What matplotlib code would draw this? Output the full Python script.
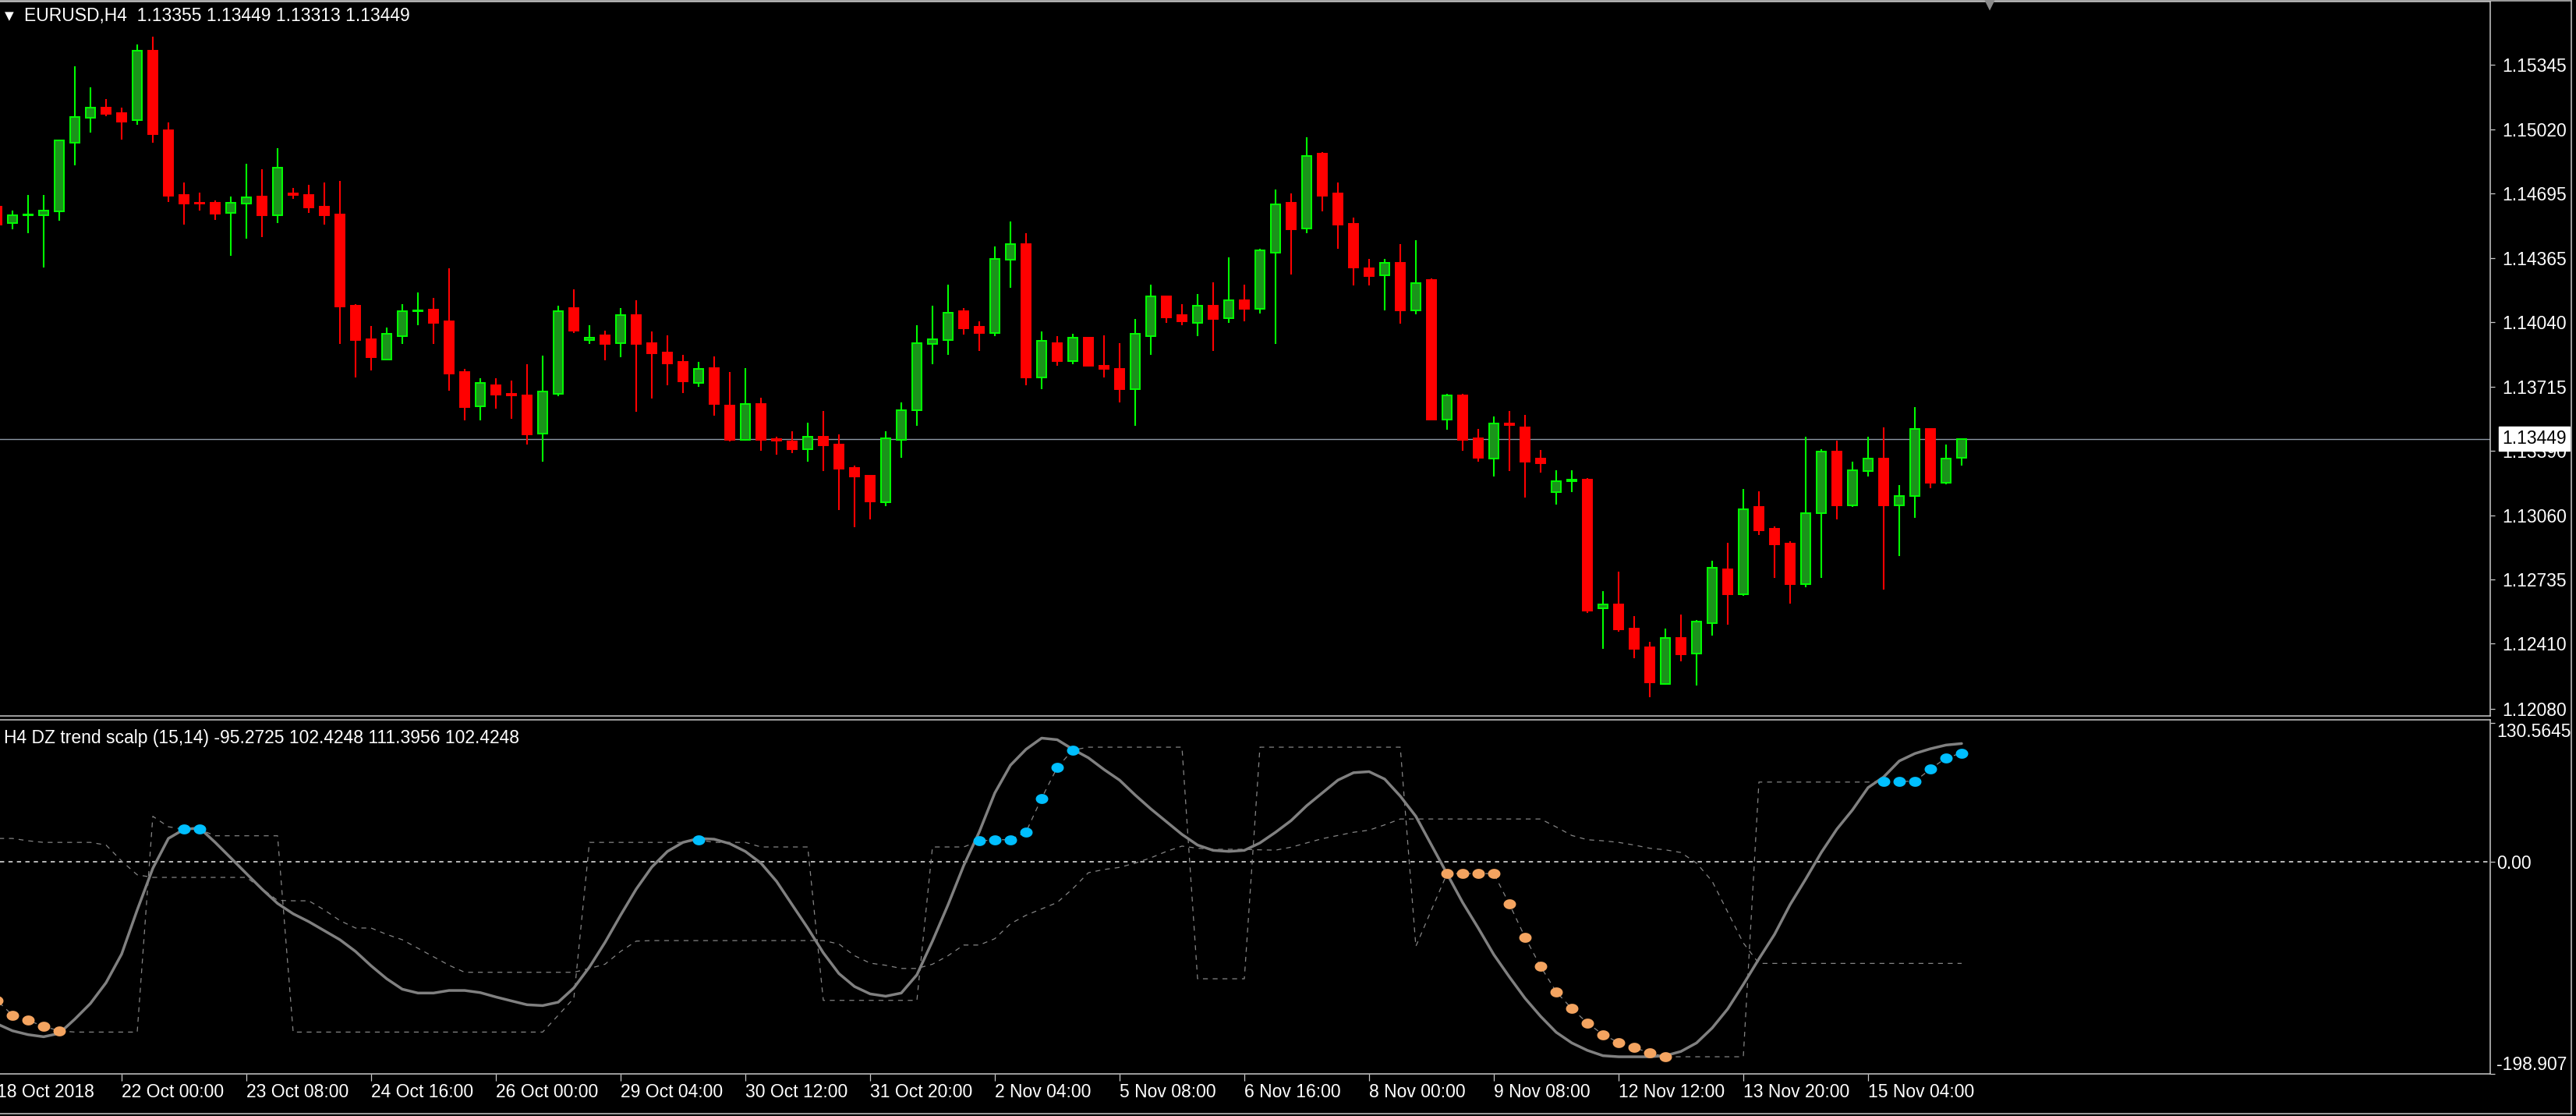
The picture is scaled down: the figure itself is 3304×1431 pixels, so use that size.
import numpy as np
import matplotlib
matplotlib.use("Agg")
import matplotlib.pyplot as plt
from matplotlib.lines import Line2D
from matplotlib.path import Path

plt.rcParams['font.family'] = ['Liberation Sans', 'DejaVu Sans']

# ---- EURUSD H4 candles, bar -1 (partly cut at left edge) .. bar 125 ----
opens = [1.14628, 1.14543, 1.14582, 1.14584, 1.14604, 1.14952, 1.15078, 1.15131, 1.15100, 1.15068,
         1.15417, 1.15015, 1.14686, 1.14647, 1.14647, 1.14594, 1.14642, 1.14679, 1.14584, 1.14696,
         1.14686, 1.14628, 1.14589, 1.14124, 1.13954, 1.13853, 1.13971, 1.14095, 1.14105, 1.14046,
         1.13790, 1.13615, 1.13722, 1.13676, 1.13669, 1.13475, 1.13678, 1.14114, 1.13950, 1.13974,
         1.13935, 1.14076, 1.13935, 1.13887, 1.13838, 1.13732, 1.13809, 1.13620, 1.13446, 1.13627,
         1.13448, 1.13436, 1.13397, 1.13460, 1.13422, 1.13300, 1.13262, 1.13126, 1.13446, 1.13596,
         1.13930, 1.13950, 1.14095, 1.14017, 1.13988, 1.14356, 1.14439, 1.13761, 1.13935, 1.13843,
         1.13964, 1.13819, 1.13804, 1.13703, 1.13969, 1.14172, 1.14076, 1.14037, 1.14124, 1.14061,
         1.14153, 1.14109, 1.14395, 1.14647, 1.14516, 1.14894, 1.14696, 1.14541, 1.14313, 1.14279,
         1.14342, 1.14100, 1.14255, 1.13547, 1.13669, 1.13451, 1.13349, 1.13528, 1.13509, 1.13349,
         1.13179, 1.13233, 1.13242, 1.12588, 1.12608, 1.12487, 1.12390, 1.12206, 1.12438, 1.12361,
         1.12516, 1.12787, 1.12661, 1.13102, 1.12995, 1.12918, 1.12714, 1.13073, 1.13383, 1.13112,
         1.13286, 1.13349, 1.13112, 1.13160, 1.13499, 1.13228, 1.13355]
highs = [1.14645, 1.14608, 1.14686, 1.14686, 1.14967, 1.15340, 1.15231, 1.15173, 1.15131, 1.15451,
         1.15490, 1.15054, 1.14749, 1.14698, 1.14657, 1.14679, 1.14846, 1.14817, 1.14923, 1.14720,
         1.14739, 1.14749, 1.14759, 1.14134, 1.14022, 1.14013, 1.14134, 1.14192, 1.14163, 1.14313,
         1.13804, 1.13756, 1.13756, 1.13746, 1.13828, 1.13870, 1.14124, 1.14206, 1.14027, 1.13998,
         1.14114, 1.14153, 1.13993, 1.13974, 1.13877, 1.13838, 1.13867, 1.13790, 1.13809, 1.13659,
         1.13460, 1.13489, 1.13533, 1.13591, 1.13470, 1.13315, 1.13262, 1.13489, 1.13635, 1.14027,
         1.14124, 1.14231, 1.14114, 1.14046, 1.14424, 1.14550, 1.14492, 1.13993, 1.13969, 1.13983,
         1.13964, 1.13974, 1.13935, 1.14056, 1.14231, 1.14172, 1.14134, 1.14182, 1.14245, 1.14371,
         1.14231, 1.14415, 1.14715, 1.14696, 1.14981, 1.14904, 1.14749, 1.14570, 1.14361, 1.14361,
         1.14439, 1.14458, 1.14264, 1.13678, 1.13678, 1.13499, 1.13562, 1.13591, 1.13572, 1.13393,
         1.13291, 1.13291, 1.13252, 1.12676, 1.12777, 1.12550, 1.12419, 1.12487, 1.12559, 1.12530,
         1.12831, 1.12923, 1.13194, 1.13184, 1.13005, 1.12928, 1.13460, 1.13397, 1.13441, 1.13334,
         1.13460, 1.13509, 1.13213, 1.13610, 1.13499, 1.13422, 1.13449]
lows = [1.14511, 1.14511, 1.14492, 1.14318, 1.14555, 1.14838, 1.15001, 1.15085, 1.14969, 1.15044,
        1.14950, 1.14652, 1.14536, 1.14608, 1.14560, 1.14376, 1.14463, 1.14473, 1.14545, 1.14666,
        1.14594, 1.14536, 1.13930, 1.13761, 1.13795, 1.13853, 1.13930, 1.14027, 1.13930, 1.13693,
        1.13543, 1.13543, 1.13601, 1.13552, 1.13422, 1.13334, 1.13664, 1.13988, 1.13930, 1.13848,
        1.13862, 1.13586, 1.13654, 1.13722, 1.13683, 1.13712, 1.13567, 1.13436, 1.13441, 1.13388,
        1.13368, 1.13378, 1.13334, 1.13286, 1.13087, 1.13000, 1.13039, 1.13107, 1.13354, 1.13514,
        1.13828, 1.13877, 1.13979, 1.13896, 1.13969, 1.14216, 1.13722, 1.13703, 1.13819, 1.13828,
        1.13814, 1.13761, 1.13635, 1.13514, 1.13877, 1.14037, 1.14027, 1.13969, 1.13896, 1.14037,
        1.14046, 1.14085, 1.13930, 1.14284, 1.14492, 1.14604, 1.14415, 1.14226, 1.14226, 1.14100,
        1.14032, 1.14080, 1.13547, 1.13494, 1.13388, 1.13334, 1.13257, 1.13286, 1.13150, 1.13276,
        1.13116, 1.13179, 1.12564, 1.12385, 1.12472, 1.12337, 1.12138, 1.12201, 1.12322, 1.12196,
        1.12453, 1.12506, 1.12651, 1.12961, 1.12743, 1.12613, 1.12695, 1.12743, 1.13039, 1.13102,
        1.13257, 1.12685, 1.12855, 1.13049, 1.13199, 1.13218, 1.13313]
closes = [1.14536, 1.14584, 1.14586, 1.14608, 1.14962, 1.15083, 1.15131, 1.15098, 1.15059, 1.15417,
          1.14996, 1.14681, 1.14642, 1.14642, 1.14591, 1.14647, 1.14676, 1.14582, 1.14826, 1.14686,
          1.14623, 1.14584, 1.14119, 1.13950, 1.13862, 1.13983, 1.14095, 1.14100, 1.14037, 1.13780,
          1.13610, 1.13732, 1.13673, 1.13669, 1.13470, 1.13688, 1.14095, 1.13998, 1.13964, 1.13930,
          1.14076, 1.13930, 1.13882, 1.13833, 1.13741, 1.13804, 1.13625, 1.13446, 1.13627, 1.13446,
          1.13441, 1.13397, 1.13460, 1.13417, 1.13296, 1.13257, 1.13131, 1.13451, 1.13596, 1.13935,
          1.13954, 1.14090, 1.14008, 1.13988, 1.14361, 1.14439, 1.13761, 1.13945, 1.13843, 1.13964,
          1.13819, 1.13804, 1.13703, 1.13983, 1.14172, 1.14066, 1.14046, 1.14124, 1.14056, 1.14153,
          1.14109, 1.14405, 1.14637, 1.14511, 1.14884, 1.14681, 1.14536, 1.14318, 1.14274, 1.14342,
          1.14100, 1.14240, 1.13547, 1.13669, 1.13446, 1.13354, 1.13528, 1.13518, 1.13334, 1.13325,
          1.13233, 1.13242, 1.12579, 1.12608, 1.12482, 1.12385, 1.12215, 1.12438, 1.12356, 1.12521,
          1.12797, 1.12661, 1.13092, 1.12986, 1.12913, 1.12714, 1.13073, 1.13383, 1.13112, 1.13291,
          1.13349, 1.13112, 1.13160, 1.13499, 1.13228, 1.13349, 1.13449]

# ---- DZ trend scalp indicator, same bars ----
trend_line = [-152, -158.6, -162.2, -164.2, -161, -147.6, -132.9, -113.4, -86.5, -45,
              -5.9, 22.2, 30.8, 32, 18.5, 3.9, -10.8, -25.4, -38.9, -48.6,
              -56, -64.5, -73, -84, -97.5, -109.7, -119.5, -123.1, -123.1, -120.7,
              -120.7, -122.7, -126.8, -130.5, -134.1, -134.9, -131.7, -118.3, -98.7, -75.5,
              -49.9, -25.4, -4.7, 10, 18.5, 22.2, 21.5, 17.3, 10, -1,
              -18.1, -40.1, -62, -85.3, -104.8, -117, -123.9, -126.1, -123.1, -106,
              -74.3, -40.1, -3.4, 28.3, 65, 91, 106, 116.5, 115, 106,
              98, 87, 77, 63, 50, 38, 26, 16, 11, 10,
              11, 18, 28, 39, 53, 65, 77, 84, 85, 78,
              62, 43, 16, -11, -38, -62, -87, -108, -128, -145,
              -160, -170, -177, -182, -183, -183, -183, -182, -178, -170,
              -156, -138, -115, -91, -68, -40, -16, 9, 31, 49,
              70, 80, 95, 102, 106.5, 110, 111.3956]
stop_line = ([-130, -143.9, -148.8, -154.4, -158.6] + [-159.8] * 5 +
             [43, 33.2, 30.8, 30.8] + [24.7] * 5 + [-159.8] * 17 + [-144, -128] +
             [18.5] * 7 + [21] + [18.5] * 3 + [14.2] * 4 + [-130] * 7 + [14.2] * 3 +
             [19.8, 21, 21, 28.3, 60, 88.9, 105.3] + [108] * 7 + [-109.7] * 4 + [108] * 10 +
             [-79.2, -45, -10.8, -10.8, -10.8, -10.8, -39.6, -70.6, -98.2, -121.9, -137.8,
              -151.2, -162.2, -169.6, -174.4, -179.3, -183] + [-183] * 5 + [75.2] * 8 +
             [75.9, 75.9, 75.9, 87.4, 97.9, 102.4248])
band_line = ([22.2, 22.2, 20, 18.5, 18.5, 18.5, 18.5, 16, 1, -12] + [-14.4] * 7 +
             [-25, -36, -36.4, -36.4, -45, -55, -62, -62, -68, -73, -81, -89, -97] +
             [-103.6] * 8 + [-100, -96, -84, -74.3] + [-73.8] * 12 +
             [-77, -88, -95, -97, -100, -100, -96, -88, -78, -78, -72, -58, -50, -44, -38, -25,
              -10, -7, -5, -1, 4, 10, 15, 13, 12, 12, 12, 11.5, 11.2, 14, 18, 22, 25, 28, 30, 35] +
             [40.5] * 10 + [33, 25, 21, 20, 18.5, 16, 13, 11.5, 9, -1, -18, -47, -76] +
             [-95.2725] * 14)
blue_bars = [11, 12, 44, 62, 63, 64, 65, 66, 67, 68, 120, 121, 122, 123, 124, 125]
orange_bars = [-1, 0, 1, 2, 3, 92, 93, 94, 95, 96, 97, 98, 99, 100, 101, 102, 103, 104, 105, 106]

price_ticks = [1.15345, 1.15020, 1.14695, 1.14365, 1.14040, 1.13715, 1.13390,
               1.13060, 1.12735, 1.12410, 1.12080]
last_price = 1.13449
ind_ticks = [130.5645, 0.0, -198.907]
ind_tick_labels = ["130.5645", "0.00", "-198.907"]
time_bars = [7, 15, 23, 31, 39, 47, 55, 63, 71, 79, 87, 95, 103, 111, 119]
time_labels = ["22 Oct 00:00", "23 Oct 08:00", "24 Oct 16:00", "26 Oct 00:00", "29 Oct 04:00",
               "30 Oct 12:00", "31 Oct 20:00", "2 Nov 04:00", "5 Nov 08:00", "6 Nov 16:00",
               "8 Nov 00:00", "9 Nov 08:00", "12 Nov 12:00", "13 Nov 20:00", "15 Nov 04:00"]
first_label = "18 Oct 2018"

# ---- figure layout in pixels ----
W, H = 3304, 1431
FS = 16.5
FRAME = '#c8c8c8'
fig = plt.figure(figsize=(W / 100, H / 100), dpi=100, facecolor='black')


def px_box(x0, y0, x1, y1):
    return [x0 / W, 1 - y1 / H, (x1 - x0) / W, (y1 - y0) / H]


def px_line(xs, ys):
    fig.add_artist(Line2D([x / W for x in xs], [1 - y / H for y in ys],
                          transform=fig.transFigure, color=FRAME, lw=1.1))


ax = fig.add_axes(px_box(0, 2, 3194, 918))
ax2 = fig.add_axes(px_box(0, 923, 3194, 1377))
for a in (ax, ax2):
    a.set_facecolor('black')
    a.set_xlim(-0.8, 158.9)
    for s in ('top', 'right', 'bottom'):
        a.spines[s].set_color(FRAME)
        a.spines[s].set_linewidth(1.1)
    a.spines['left'].set_visible(False)
    a.yaxis.set_ticks_position('right')

bars = np.arange(-1, -1 + len(opens))
o = np.array(opens)
h = np.array(highs)
l = np.array(lows)
c = np.array(closes)
up = c >= o

# candles
ax.vlines(bars[up], l[up], h[up], color='#00ff00', lw=1.5, zorder=2)
ax.vlines(bars[~up], l[~up], h[~up], color='#ff0000', lw=1.5, zorder=2)
lo = np.minimum(o, c)
ht = np.abs(c - o)
ax.bar(bars[up], ht[up], bottom=lo[up], width=0.56, color='#1a941a',
       edgecolor='#00ff00', linewidth=1.4, zorder=3)
ax.bar(bars[~up], ht[~up], bottom=lo[~up], width=0.56, color='#ff0000',
       edgecolor='#ff0000', linewidth=1.4, zorder=3)

ax.axhline(last_price, color='#8e99a5', lw=1.0, zorder=1)
ax.set_ylim(1.120436, 1.156674)
ax.set_xticks([])
ax.set_yticks(price_ticks)
ax.set_yticklabels([f"{v:.5f}" for v in price_ticks])
ax.tick_params(axis='y', direction='out', length=4.3, width=0.9, color=FRAME,
               labelcolor='white', labelsize=FS, pad=6.5)
ax.annotate(f"{last_price:.5f}", xy=(1, last_price), xycoords=('axes fraction', 'data'),
            xytext=(15, 0), textcoords='offset pixels', ha='left', va='center',
            fontsize=FS, color='black', annotation_clip=False, zorder=10,
            bbox=dict(boxstyle='square,pad=0.18', fc='white', ec='white'))

# indicator
sv = np.array(stop_line)
ax2.axhline(0, color='#c8c8c8', lw=1.3, ls=(0, (3, 3)), zorder=1)
ax2.plot(bars, band_line, color='#858585', lw=0.9, ls=(0, (5, 5)), zorder=2)
ax2.plot(bars, stop_line, color='#858585', lw=0.9, ls=(0, (5, 5)), zorder=2)
ax2.plot(bars, trend_line, color='#808080', lw=2.5, zorder=3, solid_capstyle='round')
t = np.linspace(0, 2 * np.pi, 41)
dot = Path(np.column_stack([np.cos(t), 0.8 * np.sin(t)]), closed=True)
bb = np.array(blue_bars)
ob = np.array(orange_bars)
ax2.plot(bb, sv[bb + 1], ls='none', marker=dot, ms=11.5, color='#00bfff', mew=0, zorder=4)
ax2.plot(ob, sv[ob + 1], ls='none', marker=dot, ms=11.5, color='#f4a460', mew=0, zorder=4)

ax2.set_ylim(-199.1, 133.7)
ax2.set_yticks(ind_ticks)
ax2.set_yticklabels(ind_tick_labels)
ylbl = ax2.get_yticklabels()
ylbl[0].set_va('top')
ylbl[2].set_va('bottom')
ax2.tick_params(axis='y', direction='out', length=4.3, width=0.9, color=FRAME,
                labelcolor='white', labelsize=FS, pad=1.5)
ax2.set_xticks(time_bars)
ax2.set_xticklabels(time_labels)
for lb in ax2.get_xticklabels():
    lb.set_ha('left')
ax2.tick_params(axis='x', direction='out', length=6.5, width=0.9, color=FRAME,
                labelcolor='white', labelsize=FS, pad=2)
ax2.annotate(first_label, xy=(-1, 0), xycoords=('data', 'axes fraction'),
             xytext=(0, -12), textcoords='offset pixels', ha='left', va='top',
             fontsize=FS, color='white', annotation_clip=False)

# titles
fig.text(6 / W, 1 - 21 / H, "\u25bc", fontsize=11, color='white', va='center', ha='left',
         family='DejaVu Sans')
fig.text(31 / W, 1 - 20 / H, "EURUSD,H4  1.13355 1.13449 1.13313 1.13449",
         fontsize=FS, color='white', va='center', ha='left')
fig.text(5 / W, 1 - 946 / H, "H4 DZ trend scalp (15,14) -95.2725 102.4248 111.3956 102.4248",
         fontsize=FS, color='white', va='center', ha='left')
fig.text(2552 / W, 1 - 5 / H, "\u25bc", fontsize=15, color='#8a8a8a', va='center', ha='center',
         family='DejaVu Sans')

# outer window frame
px_line([0, 3298], [1, 1])
px_line([3298, 3298], [1, 1428])
px_line([0, 3298], [1428, 1428])

fig.savefig("out.png", dpi=100, facecolor='black')
